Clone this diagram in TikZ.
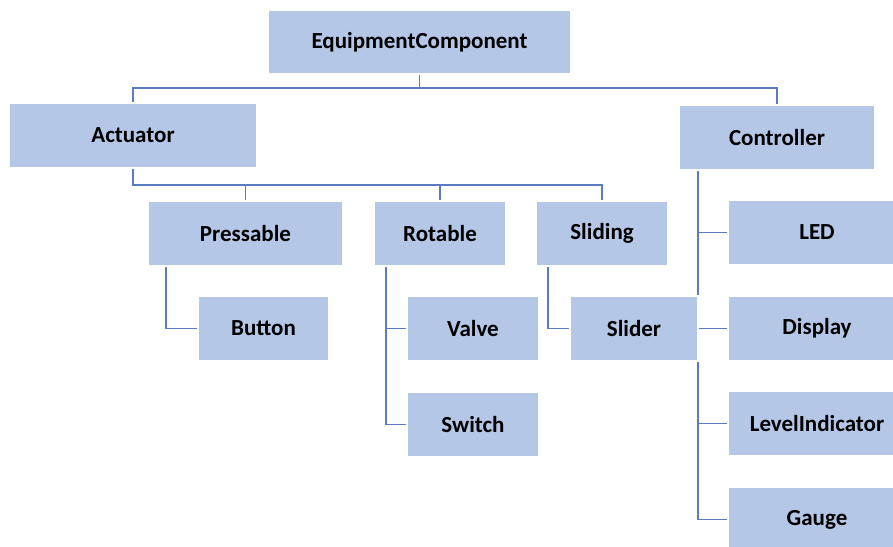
\documentclass[tikz,border=0pt]{standalone}
\usepackage{fontspec}
\setmainfont{Carlito}
\usetikzlibrary{backgrounds}
\definecolor{boxfill}{HTML}{B4C7E7}
\definecolor{linecol}{HTML}{5B7BC4}
\tikzset{
  box/.style={draw=white, line width=2pt, fill=boxfill, inner sep=0pt,
    font=\fontsize{23}{26}\selectfont\bfseries, text=black},
  conn/.style={draw=linecol, line width=1.6pt}
}
\begin{document}
\begin{tikzpicture}[x=1pt,y=-1pt]
\useasboundingbox (0,0) rectangle (893,546);
\clip (0,0) rectangle (893,546);
% boxes: centre, width, height in pixels
\node[box, minimum width=303, minimum height=64] (EC) at (419.5,42) {EquipmentComponent};
\node[box, minimum width=248, minimum height=65] (Act) at (133,135.5) {Actuator};
\node[box, minimum width=196, minimum height=65] (Ctl) at (777,137.5) {Controller};
\node[box, minimum width=195, minimum height=65] (Pre) at (245.5,233.5) {Pressable};
\node[box, minimum width=132, minimum height=65] (Rot) at (440,233.5) {Rotable};
\node[box, minimum width=132, minimum height=65] (Sld) at (602,233.5) {Sliding};
\node[box, minimum width=131, minimum height=65] (But) at (263.5,328.5) {Button};
\node[box, minimum width=132, minimum height=65] (Val) at (473,328.5) {Valve};
\node[box, minimum width=132, minimum height=65] (Swi) at (473,424.5) {Switch};
\node[box, minimum width=128, minimum height=65] (Sldr) at (634,328.5) {Slider};
\node[box, minimum width=178, minimum height=65] (LED) at (817,232.5) {LED};
\node[box, minimum width=178, minimum height=65] (Dis) at (817,328.5) {Display};
\node[box, minimum width=178, minimum height=65] (Lev) at (817,423.5) {LevelIndicator};
\node[box, minimum width=178, minimum height=65] (Gau) at (817,519.5) {Gauge};
\begin{scope}[on background layer]
  \fill[white] (0,0) rectangle (893,546);
  \coordinate (b1) at (420,88);
  \coordinate (b2) at (133,185);
  \draw[conn] (EC.south) -- (EC.south |- b1) -| (Act.north);
  \draw[conn] (EC.south |- b1) -| (Ctl.north);
  \draw[conn] (Act.south) -- (Act.south |- b2) -| (Sld.north);
  \draw[conn] (Pre.north) -- (Pre.north |- b2);
  \draw[conn] (Rot.north) -- (Rot.north |- b2);
  \draw[conn] (Pre.south -| 166,0) |- (But.west);
  \draw[conn] (Rot.south -| 386,0) |- (Swi.west);
  \draw[conn] (Val.west) -- (Val.west -| 386,0);
  \draw[conn] (Sld.south -| 548,0) |- (Sldr.west);
  \draw[conn] (Ctl.south -| 698,0) |- (Gau.west);
  \draw[conn] (LED.west) -- (LED.west -| 698,0);
  \draw[conn] (Dis.west) -- (Dis.west -| 698,0);
  \draw[conn] (Lev.west) -- (Lev.west -| 698,0);
\end{scope}
\end{tikzpicture}
\end{document}
